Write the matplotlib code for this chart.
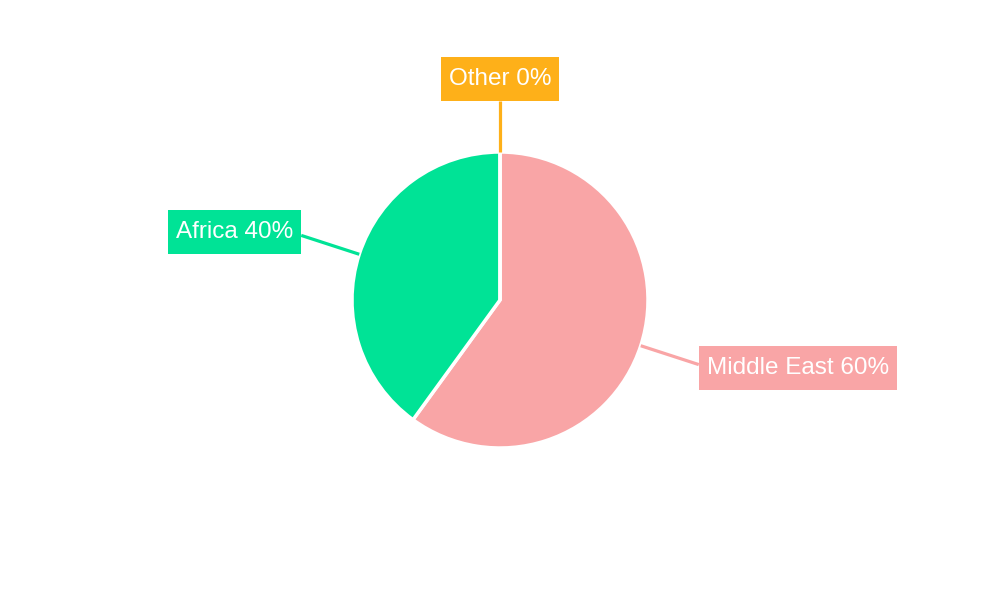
import numpy as np
import matplotlib
matplotlib.use('Agg')
import matplotlib.pyplot as plt

regions = ['Middle East', 'Africa', 'Other']
shares = [60, 40, 0]
colors = ['#F9A5A6', '#00E396', '#FEB019']

plt.rcParams['font.family'] = ['Liberation Sans', 'DejaVu Sans']

fig = plt.figure(figsize=(10, 6), dpi=100)
ax = fig.add_axes([0, 0, 1, 1])

cx, cy, r = 500, 300, 148
ax.pie(shares, colors=colors, center=(cx, cy), radius=r, startangle=90,
       counterclock=False, wedgeprops=dict(edgecolor='white', linewidth=2.5),
       frame=True)
ax.set_xlim(0, 1000)
ax.set_ylim(0, 600)
ax.set_aspect('equal')
ax.axis('off')

# leader lines + labels
fs = 17.5
pad_px = 8      # horizontal padding
vpad_px = 11    # vertical padding
pad = pad_px / (fs * 100 / 72)
total = sum(shares)
start = 90
line_len = [61, 61, 51]
for name, val, col, ll in zip(regions, shares, colors, line_len):
    sweep = 360 * val / total
    mid = np.radians(start - sweep / 2)
    start -= sweep
    x0, y0 = cx + r * np.cos(mid), cy + r * np.sin(mid)
    x1, y1 = cx + (r + ll) * np.cos(mid), cy + (r + ll) * np.sin(mid)
    ax.plot([x0, x1], [y0, y1], color=col, lw=2.3, solid_capstyle='butt')
    c = np.cos(mid)
    if abs(c) < 0.2:
        ha, va, tx, ty = 'center', 'bottom', x1, y1 + vpad_px
    elif c > 0:
        ha, va, tx, ty = 'left', 'center', x1 + pad_px, y1 - 3
    else:
        ha, va, tx, ty = 'right', 'center', x1 - pad_px, y1 + 3
    ax.text(tx, ty, f'{name} {val}%', ha=ha, va=va, color='white', fontsize=fs,
            bbox=dict(boxstyle=f'square,pad={pad:.3f}', fc=col, ec='none',
                      mutation_aspect=vpad_px / pad_px))

plt.savefig('out.png', dpi=100)
plt.close()
